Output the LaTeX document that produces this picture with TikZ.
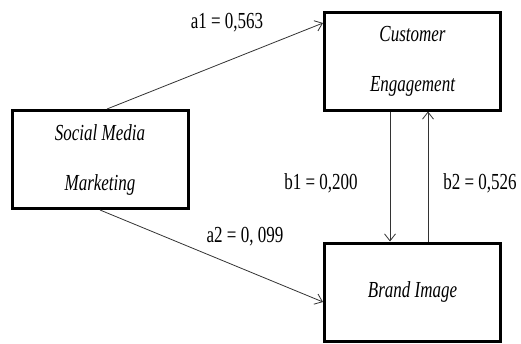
\documentclass[tikz,border=0pt]{standalone}
\usepackage{fontspec}
\setmainfont{Liberation Serif}
\usetikzlibrary{arrows.meta}
\newcommand{\tallt}[1]{\scalebox{1}[1.35]{#1}}

\begin{document}
\begin{tikzpicture}[>={Straight Barb[length=7pt,width=11pt]}, x=1pt, y=-1pt]
        % Styles
        \tikzstyle{var} = [rectangle, draw, line width=3pt, minimum width=176pt, minimum height=98pt, align=center, font=\fontsize{17}{20}\selectfont\itshape]
        \tikzstyle{coef} = [font=\fontsize{17}{20}\selectfont]
        \useasboundingbox (0,0) rectangle (521,343);

        % Variables
        \node[var] (smm) at (100,159.5) {\tallt{Social Media}\\[30pt]\tallt{Marketing}};
        \node[var] (ce) at (412.5,61) {\tallt{Customer}\\[30pt]\tallt{Engagement}};
        \node[var] (bi) at (412.5,292) {\tallt{Brand Image}};

        % Coefficients
        \node[coef] (la1) at (227,23) {\tallt{a1 = 0,563}};
        \node[coef] (la2) at (245,237) {\tallt{a2 = 0, 099}};
        \node[coef] (lb1) at (321,183) {\tallt{b1 = 0,200}};
        \node[coef] (lb2) at (480,183) {\tallt{b2 = 0,526}};

        % Paths
        \draw[->, thick, black!80] ([xshift=7pt]smm.north) -- ([yshift=38pt]ce.west);
        \draw[->, thick, black!80] (smm.south) -- ([yshift=-10pt]bi.west);
        \draw[->, thick, black!80] ([xshift=-22.5pt]ce.south) -- ([xshift=-22.5pt]bi.north);
        \draw[->, thick, black!80] ([xshift=15.5pt]bi.north) -- ([xshift=15.5pt]ce.south);

    \end{tikzpicture}
\end{document}
